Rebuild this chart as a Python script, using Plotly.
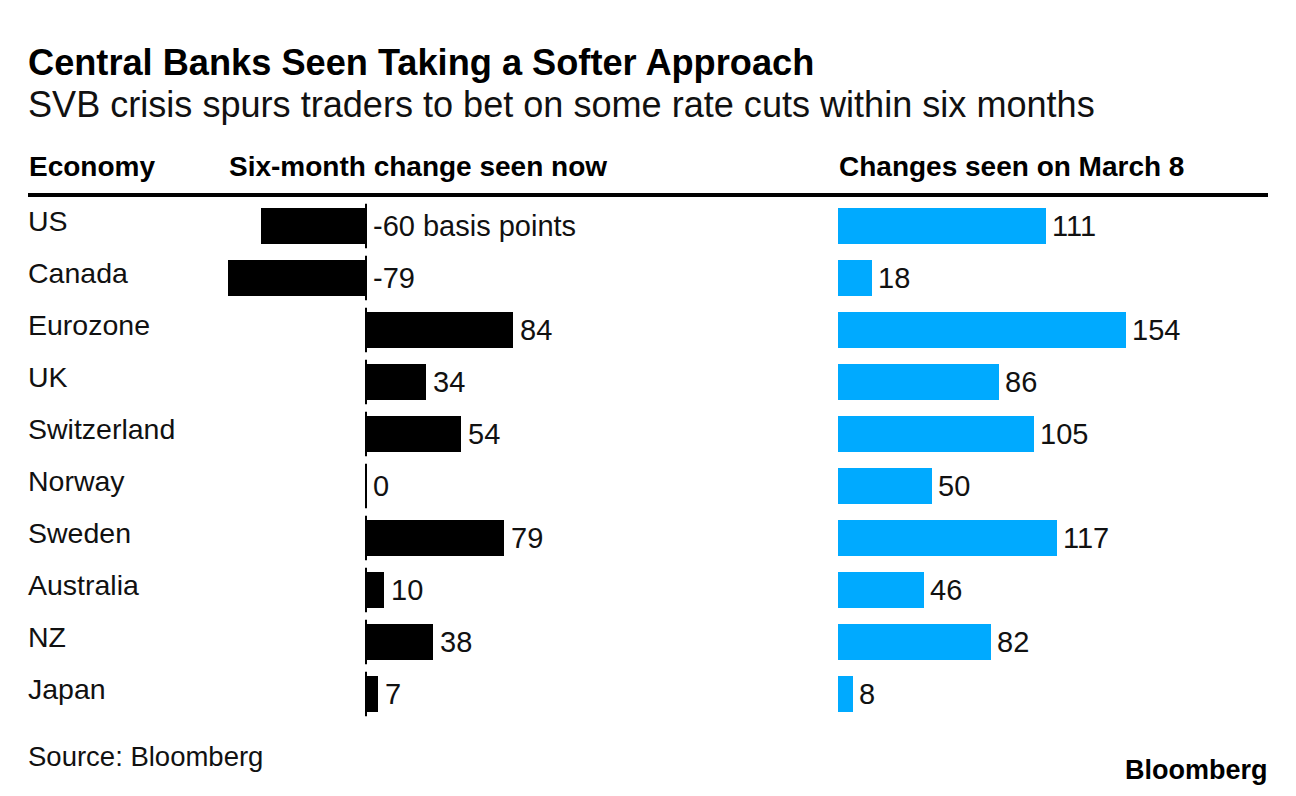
import plotly.graph_objects as go

W, H = 1296, 796
OFF = 8                      # page margin of the html body
FW, FH = W - 2 * OFF, H - 2 * OFF

economies = ["US", "Canada", "Eurozone", "UK", "Switzerland", "Norway",
             "Sweden", "Australia", "NZ", "Japan"]
change_now = [-60, -79, 84, 34, 54, 0, 79, 10, 38, 7]
change_mar8 = [111, 18, 154, 86, 105, 50, 117, 46, 82, 8]
unit_suffix = " basis points"

title = "Central Banks Seen Taking a Softer Approach"
subtitle = "SVB crisis spurs traders to bet on some rate cuts within six months"
headers = ["Economy", "Six-month change seen now", "Changes seen on March 8"]
source = "Source: Bloomberg"

FONT = "Liberation Sans, Arial, sans-serif"
BLUE = "#00AAFF"

def px_x(p):
    return (p - OFF) / FW

def px_y(p):
    return 1 - (p - OFF) / FH

idx = list(range(len(economies)))

fig = go.Figure()
fig.add_trace(go.Bar(x=change_now, y=idx, orientation="h", marker_color="black",
                     marker_line_width=0, width=0.69, xaxis="x", yaxis="y",
                     hoverinfo="skip"))
fig.add_trace(go.Bar(x=change_mar8, y=idx, orientation="h", marker_color=BLUE,
                     marker_line_width=0, width=0.69, xaxis="x2", yaxis="y",
                     hoverinfo="skip"))

# axis geometry (pixels)
l_d0, l_d1, l_zero, l_scale = 200, 640, 366, 1.75
r_d0, r_d1, r_zero, r_scale = 830, 1270, 838, 1.87

annotations = []
annotations.append(dict(text=f"<b>{title}</b>", x=px_x(26), y=px_y(63), xref="paper", yref="paper",
                        xanchor="left", yanchor="middle", showarrow=False,
                        font=dict(family=FONT, size=36.2, color="black")))
annotations.append(dict(text=subtitle, x=px_x(26), y=px_y(104), xref="paper", yref="paper",
                        xanchor="left", yanchor="middle", showarrow=False,
                        font=dict(family=FONT, size=36.1, color="#111111")))
for htxt, hx in zip(headers, [27, 227, 837]):
    annotations.append(dict(text=f"<b>{htxt}</b>", x=px_x(hx), y=px_y(167), xref="paper", yref="paper",
                            xanchor="left", yanchor="middle", showarrow=False,
                            font=dict(family=FONT, size=28, color="black")))
for i, name in enumerate(economies):
    annotations.append(dict(text=name, x=px_x(26), y=i, xref="paper", yref="y",
                            xanchor="left", yanchor="middle", yshift=5, showarrow=False,
                            font=dict(family=FONT, size=28.5, color="#111111")))
for i, v in enumerate(change_now):
    txt = f"{v}{unit_suffix}" if i == 0 else f"{v}"
    annotations.append(dict(text=txt, x=max(v, 0), y=i, xref="x", yref="y",
                            xanchor="left", yanchor="middle", xshift=5, showarrow=False,
                            font=dict(family=FONT, size=29, color="#111111")))
for i, v in enumerate(change_mar8):
    annotations.append(dict(text=f"{v}", x=v, y=i, xref="x2", yref="y",
                            xanchor="left", yanchor="middle", xshift=4, showarrow=False,
                            font=dict(family=FONT, size=29, color="#111111")))
annotations.append(dict(text=source, x=px_x(26), y=px_y(756), xref="paper", yref="paper",
                        xanchor="left", yanchor="middle", showarrow=False,
                        font=dict(family=FONT, size=27.5, color="#111111")))
annotations.append(dict(text="<b>Bloomberg</b>", x=px_x(1270), y=px_y(770), xref="paper", yref="paper",
                        xanchor="right", yanchor="middle", showarrow=False,
                        font=dict(family=FONT, size=27, color="black")))

shapes = []
shapes.append(dict(type="line", xref="paper", yref="paper", x0=px_x(28), x1=px_x(1268),
                   y0=px_y(195), y1=px_y(195), line=dict(color="black", width=4)))
for i in idx:
    shapes.append(dict(type="line", xref="x", yref="y", x0=0, x1=0, y0=i - 0.43, y1=i + 0.43,
                       line=dict(color="black", width=2)))

fig.update_layout(
    width=FW, height=FH, margin=dict(l=0, r=0, t=0, b=0),
    paper_bgcolor="white", plot_bgcolor="rgba(0,0,0,0)",
    showlegend=False, bargap=0,
    xaxis=dict(domain=[px_x(l_d0), px_x(l_d1)],
               range=[-(l_zero - l_d0) / l_scale, (l_d1 - l_zero) / l_scale],
               visible=False, fixedrange=True),
    xaxis2=dict(domain=[px_x(r_d0), px_x(r_d1)],
                range=[-(r_zero - r_d0) / r_scale, (r_d1 - r_zero) / r_scale],
                visible=False, fixedrange=True, anchor="y"),
    yaxis=dict(domain=[px_y(720), px_y(200)], range=[9.5, -0.5], visible=False, fixedrange=True),
    annotations=annotations, shapes=shapes,
)

fig.write_html("out.html")
